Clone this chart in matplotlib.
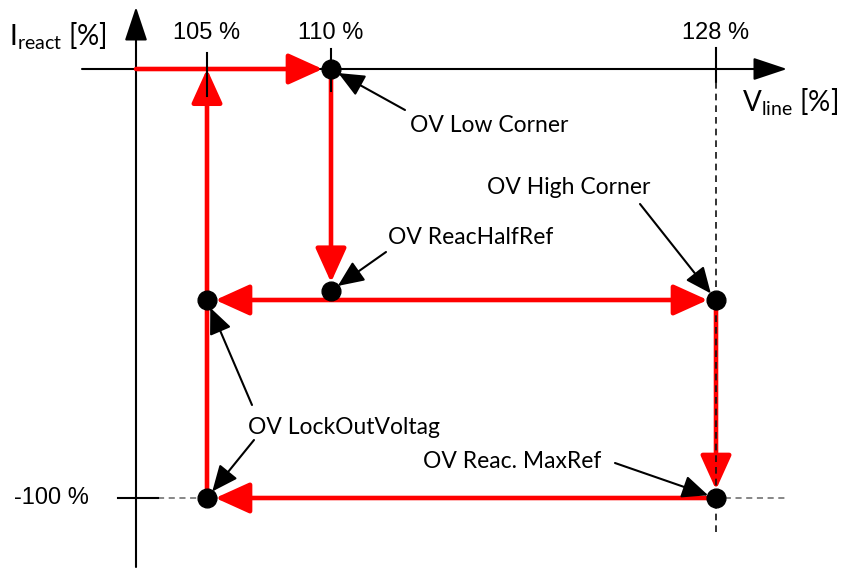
import numpy as np
import matplotlib.pyplot as plt
import matplotlib.transforms as mtransforms
from matplotlib.patches import FancyArrowPatch

plt.rcParams['mathtext.fontset'] = 'custom'
plt.rcParams['mathtext.rm'] = 'Lato'

# ---- data -------------------------------------------------------------
# line voltage thresholds (%) and reactive current levels (%)
v_ticks = [105, 110, 128]
v_labels = ["105 %", "110 %", "128 %"]
i_ticks = [-100]
i_labels = ["-100 %"]

# red characteristic segments (start V, start I, end V, end I, both ends?)
seg_v0 = [100, 110, 128, 128, 128, 105]
seg_i0 = [0, 0, -50, -50, -100, -100]
seg_v1 = [110, 110, 105, 128, 105, 105]
seg_i1 = [0, -48, -50, -100, -100, 0]
seg_both = [False, False, True, False, False, False]

# parameter points
pt_names = ["OV Low Corner", "OV ReacHalfRef", "OV LockOutVoltag",
            "OV High Corner", "OV Reac. MaxRef", "OV LockOutVoltag"]
pt_v = [110, 110, 105, 128, 128, 105]
pt_i = [0, -48, -50, -50, -100, -100]

# ---- schematic (non-linear) axes ---------------------------------------
W, H = 843, 570
v_anchor = np.array([90, 100, 105, 110, 128, 134])
v_pix = np.array([0, 136, 207, 331, 716, 843])
i_anchor = np.array([-118.5, -100, -50, 0, 15])
i_pix = -np.array([570, 498, 300, 69, 0])


def v_fwd(v):
    return np.interp(v, v_anchor, v_pix)


def v_inv(p):
    return np.interp(p, v_pix, v_anchor)


def i_fwd(i):
    return np.interp(i, i_anchor, i_pix)


def i_inv(p):
    return np.interp(p, i_pix, i_anchor)


fig = plt.figure(figsize=(W / 100, H / 100), dpi=100)
ax = fig.add_axes([0, 0, 1, 1])
ax.set_xscale('function', functions=(v_fwd, v_inv))
ax.set_yscale('function', functions=(i_fwd, i_inv))
ax.set_xlim(90, 134)
ax.set_ylim(-118.5, 15)
ax.axis('off')

# pixel transform (origin top-left) for layout items
px = mtransforms.Affine2D().scale(1 / W, -1 / H).translate(0, 1) + fig.transFigure
x_data_y_px = mtransforms.blended_transform_factory(ax.transData, px)
x_px_y_data = mtransforms.blended_transform_factory(px, ax.transData)

# axes with arrow heads
for a, b in [((136, 567), (136, 7)), ((82, 69), (787, 69))]:
    ax.add_patch(FancyArrowPatch(a, b, transform=px, arrowstyle='-|>,head_length=21,head_width=7',
                                 mutation_scale=1, color='black', lw=1.5,
                                 shrinkA=0, shrinkB=0, zorder=2))

# voltage ticks and labels
tick_top = [53, 49, 48]
tick_bot = [96, 91, 82]
for v, lab, t0, t1 in zip(v_ticks, v_labels, tick_top, tick_bot):
    ax.plot([v, v], [t0, t1], transform=x_data_y_px, color='black', lw=1.5, zorder=4)
    ax.text(v, 33, lab, transform=x_data_y_px, ha='center', va='center',
            fontsize=17, family='Liberation Sans')
ax.plot([128, 128], [82, 533], transform=x_data_y_px, color='#111111', lw=1.2,
        dashes=(4, 3), zorder=4)

# current tick and label
for i, lab in zip(i_ticks, i_labels):
    ax.plot([118, 158], [i, i], transform=x_px_y_data, color='black', lw=1.5, zorder=2)
    ax.plot([158, 785], [i, i], transform=x_px_y_data, color='#666666', lw=1.1,
            dashes=(4, 3), zorder=1)
    ax.text(51, i, lab, transform=x_px_y_data, ha='center', va='center',
            fontsize=17, family='Liberation Sans')

# axis titles
ax.text(9, 36, r'I$_{\mathrm{react}}$ [%]', transform=px, ha='left', va='center',
        fontsize=20, family='Lato')
ax.text(742, 102, r'V$_{\mathrm{line}}$ [%]', transform=px, ha='left', va='center',
        fontsize=20, family='Lato')

# red characteristic arrows
for v0, i0, v1, i1, both in zip(seg_v0, seg_i0, seg_v1, seg_i1, seg_both):
    style = '<|-|>' if both else '-|>'
    shrink_a = 6 if (both or v0 != 100) else 0
    shrink_b = 0 if (v1 == 105 and i1 == 0) else 6
    ax.add_patch(FancyArrowPatch((v0, i0), (v1, i1),
                                 arrowstyle=style + ',head_length=21,head_width=9.5',
                                 mutation_scale=1, color='#ff0000', lw=3.3,
                                 shrinkA=shrink_a, shrinkB=shrink_b, zorder=3))

# parameter points
ax.plot(pt_v, pt_i, 'o', color='black', markersize=13.5, zorder=5, clip_on=False)

# annotation labels and pointers
label_pos = {"OV Low Corner": (410, 125), "OV ReacHalfRef": (388, 238),
             "OV High Corner": (487, 187), "OV LockOutVoltag": (248, 427),
             "OV Reac. MaxRef": (423, 462)}
arrow_start = [(405, 110), (386, 252), (252, 405), (640, 204), (615, 463), (254, 440)]
for name, v, i, start in zip(pt_names, pt_v, pt_i, arrow_start):
    ax.annotate('', xy=(v, i), xytext=start, xycoords='data', textcoords=px,
                arrowprops=dict(arrowstyle='-|>,head_length=16,head_width=7',
                                mutation_scale=1, color='black', lw=1.5,
                                shrinkA=0, shrinkB=6), zorder=6)
for name, (x, y) in label_pos.items():
    ax.text(x, y, name, transform=px, ha='left', va='center', fontsize=16.5, family='Lato')

fig.savefig('out.png', dpi=100)
